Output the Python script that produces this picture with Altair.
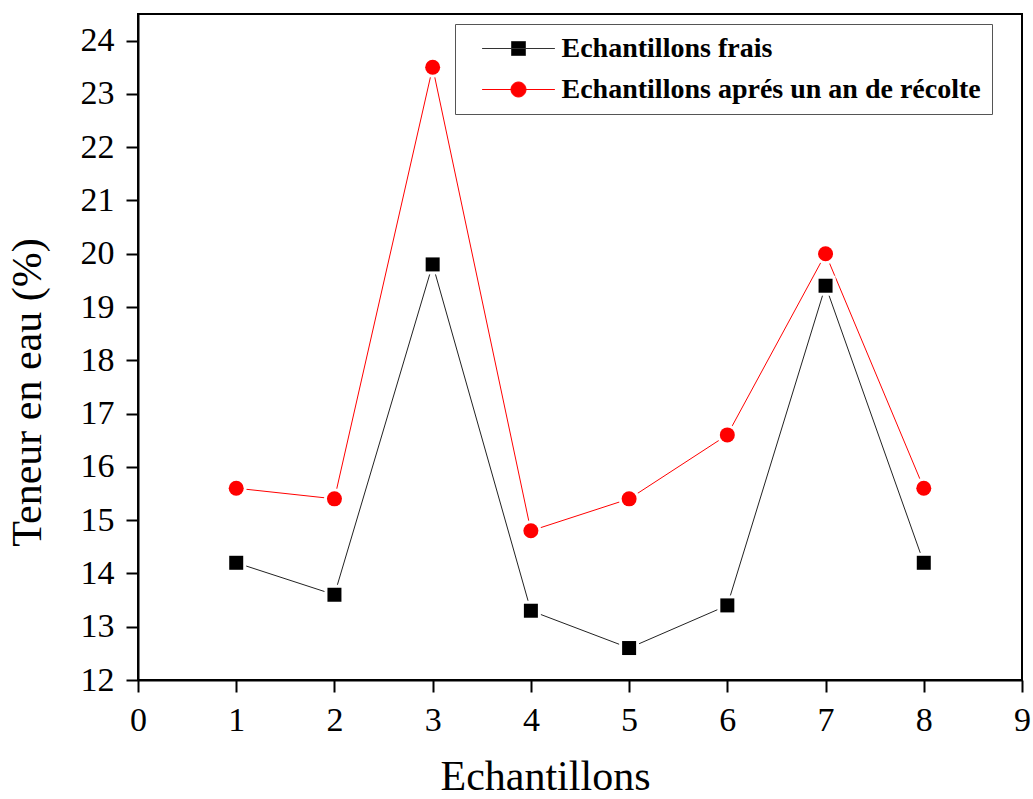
import altair as alt
import pandas as pd

# Sample numbers and water content (%) for each series
samples = [1, 2, 3, 4, 5, 6, 7, 8]
fresh = [14.2, 13.6, 19.8, 13.3, 12.6, 13.4, 19.4, 14.2]
aged = [15.6, 15.4, 23.5, 14.8, 15.4, 16.6, 20.0, 15.6]

series_names = ["Echantillons frais", "Echantillons aprés un an de récolte"]
series_colors = ["black", "red"]
line_colors = ["#222", "red"]
series_shapes = ["square", "circle"]
marker_sizes = [196, 225]
halo_sizes = [400, 441]

x_ticks = list(range(0, 10))
y_ticks = list(range(12, 25))

df = pd.DataFrame({
    "sample": samples + samples,
    "value": fresh + aged,
    "series": [series_names[0]] * len(samples) + [series_names[1]] * len(samples),
})

FONT = "Liberation Serif, Times New Roman, Times, serif"

# Legend symbols: a short line with the marker in the middle
LINE = "M-5.2,0H5.2"
square_path = LINE + "M-1,-1H1V1H-1Z"
circle_path = LINE + "M1.07,0A1.07,1.07,0,1,1,-1.07,0A1.07,1.07,0,1,1,1.07,0Z"
blank_path = "M0,0"

x_enc = alt.X(
    "sample:Q",
    scale=alt.Scale(domain=[0, 9], nice=False, zero=False),
    axis=alt.Axis(
        values=x_ticks, title="Echantillons", labelPadding=11, labelFlush=False,
        titleX=407, titleY=109, titleBaseline="alphabetic", titleAlign="center",
    ),
)
y_enc = alt.Y(
    "value:Q",
    scale=alt.Scale(domain=[12, 24.5], nice=False, zero=False),
    axis=alt.Axis(
        values=y_ticks, title="Teneur en eau (%)", labelPadding=12, labelFlush=False,
        titleX=-98, titleY=378, titleAngle=270, titleBaseline="alphabetic", titleAlign="center",
    ),
)
color_scale = alt.Scale(domain=series_names, range=line_colors)

legend_common = dict(
    title=None, orient="none", legendX=317, direction="vertical",
    symbolSize=196, symbolOffset=39, labelOffset=29, padding=10.5, rowPadding=13,
    symbolStrokeWidth=1, labelFont=FONT, labelFontSize=28, labelFontWeight="bold",
    labelColor="black", labelLimit=700,
)
# Framed legend listing both labels (draws the first symbol only)
legend_main = alt.Legend(legendY=10, strokeColor="#555", **legend_common)
# Second symbol, placed on the second row of the framed legend
legend_second = alt.Legend(legendY=51, labelOpacity=0, **legend_common)

base = alt.Chart(df)

lines = base.mark_line(strokeWidth=1).encode(
    x=x_enc, y=y_enc,
    color=alt.Color("series:N", scale=color_scale, legend=None),
    detail="series:N",
)

layers = [lines]
# White halo under each marker leaves a small gap where the line meets it
for name, shape, size in zip(series_names, series_shapes, halo_sizes):
    layers.append(
        base.transform_filter(alt.datum.series == name)
        .mark_point(filled=True, color="white", opacity=1, shape=shape, size=size)
        .encode(x=x_enc, y=y_enc)
    )
for name, shape, size, col in zip(series_names, series_shapes, marker_sizes, series_colors):
    layers.append(
        base.transform_filter(alt.datum.series == name)
        .mark_point(filled=True, color=col, opacity=1, shape=shape, size=size)
        .encode(x=x_enc, y=y_enc)
    )

# Invisible layers that only carry the legend symbols
layers.append(
    base.mark_point(opacity=0, fill=series_colors[0], stroke="#333", strokeWidth=1).encode(
        x=x_enc, y=y_enc,
        shape=alt.Shape(
            "series:N",
            scale=alt.Scale(domain=series_names, range=[square_path, blank_path]),
            legend=legend_main,
        ),
    )
)
layers.append(
    base.transform_filter(alt.datum.series == series_names[1])
    .mark_point(opacity=0, fill=series_colors[1], stroke=series_colors[1], strokeWidth=1)
    .encode(
        x=x_enc, y=y_enc,
        shape=alt.Shape(
            "series:N",
            scale=alt.Scale(domain=[series_names[1]], range=[circle_path]),
            legend=legend_second,
        ),
    )
)

chart = (
    alt.layer(*layers)
    .resolve_scale(shape="independent")
    .properties(
        width=884, height=666,
        autosize=alt.AutoSizeParams(type="none"),
        padding={"left": 138, "top": 14, "right": 11, "bottom": 119},
        background="white",
    )
    .configure_view(stroke="black", strokeWidth=2)
    .configure_axis(
        grid=False, domainColor="black", domainWidth=2, tickColor="black", tickWidth=2,
        tickSize=12, labelFont=FONT, labelFontSize=34, labelColor="black",
        titleFont=FONT, titleFontSize=42, titleFontWeight="normal", titleColor="black",
    )
)

chart.save("out.html", embed_options={"renderer": "svg", "actions": False})
